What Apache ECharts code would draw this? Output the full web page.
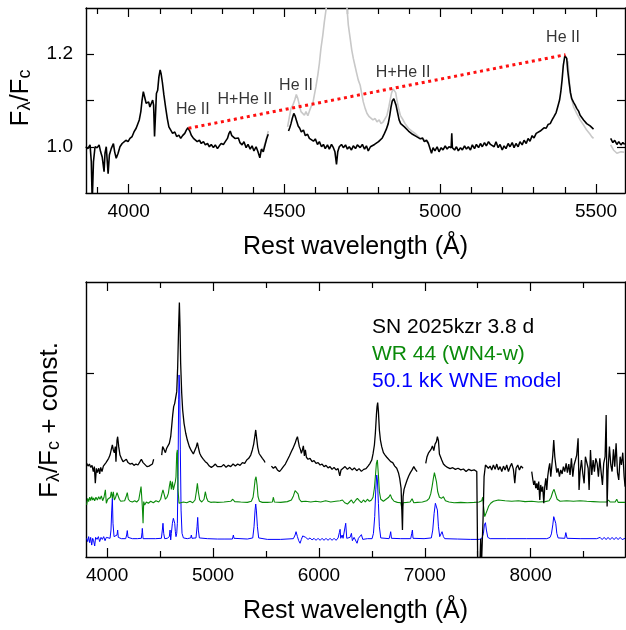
<!DOCTYPE html>
<html>
<head>
<meta charset="utf-8">
<script src="https://cdn.jsdelivr.net/npm/echarts@6/dist/echarts.min.js"></script>
<style>
  html, body { margin: 0; padding: 0; background: #fff; }
  #chart { width: 626px; height: 630px; }
</style>
</head>
<body>
<div id="chart"></div>
<script>
// ---------- Upper panel: normalised spectrum around the He II lines ----------
// [rest wavelength (Å), F_lambda / F_c]; null marks a gap in the spectrum
const snZoomFlux = [
  [3862,1.000],[3869,0.996],[3876,1.004],[3880,0.968],[3883,0.880],[3887,0.968],[3892,1.000],
  [3899,0.998],[3905,1.004],[3910,0.989],[3915,0.978],[3921,0.946],[3924,0.986],[3928,1.000],
  [3934,0.942],[3938,0.982],[3944,0.996],[3951,1.007],[3955,0.989],[3960,0.975],[3966,0.986],
  [3972,1.000],[3979,1.007],[3985,1.004],[3991,1.014],[3998,1.011],[4004,1.018],[4011,1.022],
  [4017,1.032],[4024,1.040],[4030,1.043],[4034,1.058],[4039,1.076],[4043,1.101],[4047,1.119],
  [4051,1.108],[4056,1.094],[4060,1.090],[4064,1.097],[4068,1.086],[4073,1.090],[4077,1.101],
  [4080,1.090],[4083,1.022],[4086,1.068],[4089,1.115],[4093,1.122],[4097,1.151],[4101,1.166],
  [4104,1.158],[4108,1.140],[4113,1.112],[4119,1.083],[4124,1.061],[4129,1.043],[4135,1.036],
  [4141,1.029],[4148,1.032],[4154,1.022],[4161,1.025],[4167,1.018],[4173,1.024],[4180,1.029],
  [4185,1.036],[4190,1.041],[4196,1.034],[4201,1.025],[4208,1.018],[4214,1.022],[4220,1.011],
  [4227,1.014],[4233,1.007],[4240,1.011],[4246,1.004],[4253,1.007],[4259,1.000],[4265,1.005],
  [4272,0.998],[4278,1.004],[4285,0.996],[4291,1.002],[4297,1.007],[4304,1.005],[4310,1.011],
  [4317,1.018],[4322,1.029],[4326,1.034],[4331,1.024],[4336,1.027],[4341,1.018],[4347,1.014],
  [4352,1.019],[4357,1.009],[4364,1.004],[4370,1.011],[4377,0.998],[4383,1.005],[4390,0.995],
  [4396,1.002],[4402,0.991],[4409,1.000],[4415,0.989],[4421,0.976],[4426,0.995],[4432,0.989],
  [4438,1.005],[4443,1.018],[4448,1.027],[4480,null],
  [4513,1.034],[4517,1.041],[4521,1.050],[4525,1.061],[4530,1.072],[4534,1.067],[4538,1.058],
  [4544,1.045],[4549,1.040],[4554,1.032],[4561,1.036],[4567,1.024],[4574,1.027],[4580,1.018],
  [4586,1.022],[4593,1.012],[4599,1.017],[4606,1.005],[4612,1.011],[4619,1.000],[4625,1.005],
  [4631,0.996],[4638,1.004],[4644,0.995],[4651,1.005],[4657,0.998],[4662,0.989],[4667,0.962],
  [4671,0.989],[4676,1.000],[4683,1.005],[4689,0.998],[4696,1.004],[4702,0.995],[4708,1.000],
  [4715,0.993],[4721,1.002],[4728,0.996],[4734,1.004],[4743,0.998],[4750,1.005],[4757,0.995],
  [4763,1.002],[4769,0.991],[4776,1.000],[4782,0.996],[4789,1.005],[4795,1.002],[4802,1.011],
  [4808,1.009],[4814,1.019],[4821,1.029],[4827,1.038],[4833,1.050],[4838,1.068],[4842,1.086],
  [4846,1.099],[4851,1.104],[4854,1.101],[4858,1.090],[4863,1.074],[4868,1.058],[4873,1.050],
  [4879,1.054],[4885,1.043],[4891,1.045],[4898,1.034],[4904,1.038],[4911,1.027],[4917,1.031],
  [4924,1.022],[4930,1.025],[4936,1.017],[4943,1.019],[4949,1.011],[4956,1.014],[4962,1.007],
  [4967,1.009],[4972,0.986],[4977,0.998],[4983,0.991],[4990,1.000],[4996,0.989],[5003,0.998],
  [5009,0.993],[5016,1.002],[5022,0.995],[5028,1.000],[5035,0.998],[5037,1.029],[5039,0.998],
  [5046,0.993],[5052,1.000],[5058,0.991],[5065,0.998],[5071,0.993],[5078,1.002],[5084,0.995],
  [5090,1.000],[5097,0.993],[5103,1.004],[5110,0.996],[5116,1.005],[5123,0.998],[5129,1.007],
  [5135,1.000],[5142,1.009],[5148,1.002],[5155,1.011],[5161,1.005],[5173,1.000],[5179,1.011],
  [5186,0.998],[5192,1.005],[5199,0.993],[5205,1.002],[5211,0.996],[5218,1.007],[5224,1.000],
  [5231,1.009],[5237,0.998],[5243,1.007],[5250,1.000],[5256,1.011],[5263,1.004],[5269,1.014],
  [5276,1.007],[5282,1.018],[5288,1.012],[5295,1.024],[5301,1.019],[5308,1.029],[5314,1.025],
  [5321,1.034],[5327,1.032],[5333,1.041],[5340,1.040],[5346,1.048],[5353,1.050],[5359,1.058],
  [5365,1.065],[5372,1.074],[5377,1.086],[5383,1.101],[5387,1.119],[5391,1.144],[5395,1.176],
  [5400,1.197],[5403,1.198],[5406,1.191],[5409,1.166],[5414,1.137],[5418,1.117],[5422,1.104],
  [5428,1.096],[5433,1.090],[5438,1.083],[5444,1.077],[5449,1.068],[5454,1.072],[5460,1.058],
  [5465,1.061],[5470,1.050],[5476,1.054],[5481,1.045],[5486,1.048],[5492,1.038],[5520,null],
  [5547,1.018],[5554,1.009],[5560,1.014],[5567,1.005],[5573,1.011],[5580,1.004],[5586,1.009],
  [5592,1.005]
];

// Comparison spectrum drawn in grey behind the main one
const snZoomCompare = [
  [4422,0.989],[4432,0.996],[4441,1.014],[4448,1.034],[4480,null],
  [4510,1.043],[4516,1.065],[4521,1.083],[4527,1.090],[4533,1.101],[4538,1.113],[4543,1.104],
  [4548,1.090],[4553,1.076],[4559,1.079],[4564,1.068],[4569,1.076],[4575,1.067],[4580,1.077],
  [4585,1.086],[4591,1.094],[4596,1.112],[4601,1.130],[4607,1.155],[4612,1.180],[4617,1.212],
  [4623,1.241],[4628,1.270],[4634,1.299],[4650,1.45],[4686,1.70],[4700,1.306],[4705,1.263],
  [4711,1.234],[4716,1.209],[4721,1.191],[4727,1.173],[4732,1.158],[4737,1.144],[4743,1.133],
  [4748,1.115],[4753,1.097],[4759,1.083],[4765,1.072],[4772,1.065],[4778,1.068],[4784,1.058],
  [4791,1.061],[4797,1.054],[4804,1.058],[4810,1.050],[4817,1.054],[4823,1.058],[4829,1.068],
  [4835,1.086],[4840,1.104],[4844,1.117],[4849,1.125],[4853,1.127],[4857,1.117],[4861,1.101],
  [4867,1.081],[4872,1.068],[4879,1.060],[4887,1.050],[4898,1.040],[4909,1.034],[4919,1.029],
  [4935,1.019],[4951,1.014],[4964,1.009],[5000,null],
  [5410,1.185],[5417,1.117],[5428,1.086],[5438,1.072],[5449,1.058],[5460,1.047],[5470,1.036],
  [5481,1.027],[5486,1.022],[5492,1.018],[5520,null],
  [5547,1.004],[5556,0.993],[5567,0.986],[5580,0.989],[5592,0.988]
];

// Straight guide joining the He II 4200 and He II 5411 peaks
const heIIGuide = [[4192,1.040],[5402,1.199]];

// Line identifications: [label, wavelength, flux level of the text]
const lineIds = [
  ['He II', 4206, 1.081],
  ['H+He II', 4373, 1.103],
  ['He II', 4537, 1.133],
  ['H+He II', 4881, 1.161],
  ['He II', 5394, 1.235]
];

// ---------- Lower panel: full optical spectra with vertical offsets ----------
const snFull = [
  [3806,0.511],[3819,0.496],[3832,0.507],[3844,0.489],[3857,0.500],[3869,0.466],[3879,0.493],
  [3888,0.402],[3898,0.484],[3907,0.460],[3920,0.484],[3929,0.453],[3939,0.489],[3951,0.466],
  [3964,0.496],[3976,0.489],[3989,0.515],[4002,0.520],[4014,0.538],[4027,0.556],[4039,0.587],
  [4049,0.611],[4058,0.584],[4068,0.569],[4077,0.602],[4083,0.520],[4093,0.638],[4099,0.656],
  [4109,0.602],[4121,0.556],[4134,0.538],[4150,0.520],[4165,0.526],[4181,0.533],[4197,0.515],
  [4216,0.507],[4235,0.511],[4253,0.500],[4272,0.507],[4291,0.502],[4310,0.520],[4323,0.533],
  [4339,0.515],[4357,0.507],[4376,0.493],[4395,0.496],[4411,0.489],[4427,0.507],[4439,0.533],
  [4475,null],
  [4515,0.556],[4524,0.602],[4537,0.587],[4550,0.569],[4562,0.593],[4575,0.602],[4587,0.620],
  [4600,0.656],[4609,0.711],[4619,0.775],[4628,0.820],[4638,0.838],[4647,0.847],[4657,0.902],
  [4666,1.038],[4675,1.257],[4682,1.388],[4688,1.257],[4694,1.057],[4704,0.893],[4713,0.802],
  [4726,0.729],[4742,0.675],[4757,0.638],[4776,0.602],[4795,0.580],[4814,0.562],[4830,0.569],
  [4842,0.602],[4852,0.624],[4861,0.598],[4874,0.566],[4890,0.547],[4909,0.533],[4927,0.520],
  [4946,0.511],[4965,0.496],[4984,0.489],[5003,0.496],[5022,0.507],[5041,0.493],[5057,0.502],
  [5079,0.493],[5101,0.504],[5123,0.489],[5145,0.500],[5167,0.493],[5189,0.507],[5211,0.496],
  [5233,0.507],[5255,0.500],[5277,0.515],[5299,0.511],[5318,0.529],[5337,0.538],[5356,0.556],
  [5371,0.584],[5384,0.616],[5394,0.656],[5403,0.693],[5412,0.647],[5422,0.598],[5434,0.566],
  [5450,0.551],[5466,0.538],[5482,0.526],[5491,0.515],[5520,null],
  [5551,0.496],[5570,0.484],[5589,0.493],[5608,0.475],[5627,0.466],[5645,0.478],[5664,0.493],
  [5683,0.507],[5702,0.529],[5721,0.551],[5740,0.575],[5759,0.598],[5775,0.620],[5787,0.642],
  [5797,0.656],[5806,0.629],[5815,0.602],[5825,0.587],[5834,0.566],[5844,0.584],[5853,0.606],
  [5863,0.551],[5872,0.584],[5882,0.544],[5897,0.533],[5916,0.538],[5935,0.520],[5954,0.526],
  [5973,0.511],[5992,0.515],[6011,0.502],[6030,0.507],[6048,0.493],[6067,0.500],[6086,0.486],
  [6105,0.493],[6124,0.478],[6143,0.489],[6162,0.475],[6181,0.482],[6197,0.442],[6209,0.475],
  [6228,0.484],[6247,0.493],[6269,0.478],[6291,0.489],[6313,0.475],[6335,0.486],[6357,0.471],
  [6379,0.482],[6401,0.467],[6423,0.478],[6445,0.482],[6464,0.496],[6483,0.511],[6499,0.529],
  [6511,0.562],[6524,0.611],[6533,0.675],[6543,0.775],[6549,0.820],[6555,0.842],[6562,0.793],
  [6571,0.693],[6581,0.638],[6593,0.602],[6609,0.569],[6625,0.556],[6641,0.544],[6659,0.538],
  [6678,0.520],[6697,0.515],[6716,0.496],[6735,0.484],[6751,0.460],[6763,0.429],[6776,0.375],
  [6782,0.275],[6789,0.147],[6795,0.329],[6804,0.369],[6817,0.393],[6833,0.420],[6848,0.442],
  [6864,0.460],[6880,0.475],[6896,0.493],[6911,0.478],[6927,0.466],[6970,null],
  [7009,0.511],[7021,0.547],[7034,0.566],[7047,0.556],[7059,0.587],[7072,0.606],[7085,0.580],
  [7097,0.616],[7110,0.629],[7119,0.656],[7129,0.634],[7138,0.562],[7148,0.566],[7160,0.529],
  [7176,0.507],[7195,0.496],[7214,0.489],[7239,0.482],[7264,0.487],[7289,0.478],[7314,0.484],
  [7340,0.475],[7365,0.480],[7390,0.466],[7415,0.478],[7440,0.471],[7466,0.475],[7491,0.466],
  [7500,-0.05],[7520,-0.05],[7528,0.10],[7535,-0.05],[7545,-0.05],[7550,0.20],[7560,0.438],
  [7573,0.502],[7585,0.511],[7601,0.484],[7617,0.496],[7632,0.475],[7648,0.502],[7664,0.478],
  [7680,0.507],[7695,0.475],[7711,0.493],[7727,0.466],[7743,0.496],[7758,0.475],[7774,0.502],
  [7790,0.466],[7806,0.493],[7821,0.511],[7837,0.478],[7850,0.402],[7862,0.484],[7878,0.502],
  [7894,0.475],[7910,0.496],[7928,0.484],[7970,null],
  [8010,0.466],[8020,0.424],[8029,0.393],[8039,0.416],[8048,0.375],[8058,0.402],[8067,0.366],
  [8076,0.411],[8086,0.311],[8095,0.393],[8105,0.356],[8114,0.384],[8124,0.293],[8133,0.384],
  [8143,0.429],[8152,0.366],[8161,0.438],[8171,0.484],[8180,0.511],[8190,0.438],[8199,0.493],
  [8209,0.556],[8218,0.638],[8228,0.547],[8237,0.502],[8247,0.460],[8259,0.484],[8272,0.438],
  [8284,0.475],[8297,0.453],[8309,0.493],[8322,0.466],[8335,0.511],[8347,0.460],[8360,0.507],
  [8372,0.447],[8385,0.538],[8398,0.438],[8410,0.502],[8423,0.529],[8435,0.556],[8448,0.647],
  [8457,0.366],[8467,0.466],[8480,0.529],[8492,0.457],[8505,0.402],[8517,0.547],[8530,0.556],
  [8543,0.484],[8552,0.366],[8565,0.584],[8577,0.447],[8590,0.529],[8602,0.466],[8615,0.538],
  [8628,0.511],[8640,0.438],[8653,0.538],[8665,0.466],[8678,0.393],[8690,0.511],[8703,0.547],
  [8713,0.775],[8722,0.275],[8731,0.475],[8744,0.602],[8757,0.502],[8769,0.466],[8782,0.587],
  [8794,0.493],[8807,0.620],[8820,0.460],[8832,0.420],[8845,0.547],[8857,0.502],[8870,0.569],
  [8883,0.438],[8892,0.384]
];

const wr44Flux = [
  [3806,0.284],[3816,0.320],[3825,0.302],[3835,0.326],[3844,0.307],[3854,0.329],[3863,0.311],
  [3872,0.322],[3882,0.307],[3894,0.326],[3907,0.311],[3920,0.329],[3932,0.315],[3945,0.333],
  [3957,0.307],[3970,0.326],[3983,0.366],[3992,0.293],[4005,0.315],[4017,0.307],[4030,0.326],
  [4039,0.356],[4049,0.320],[4058,0.356],[4068,0.311],[4080,0.326],[4093,0.351],[4102,0.356],
  [4115,0.315],[4128,0.304],[4146,0.300],[4165,0.307],[4181,0.333],[4190,0.351],[4200,0.315],
  [4216,0.304],[4238,0.300],[4260,0.307],[4279,0.300],[4298,0.311],[4310,0.320],[4320,0.384],
  [4326,0.393],[4332,0.275],[4339,0.184],[4345,0.302],[4354,0.284],[4370,0.300],[4389,0.293],
  [4411,0.304],[4436,0.296],[4461,0.307],[4487,0.300],[4505,0.315],[4518,0.347],[4527,0.366],
  [4537,0.344],[4550,0.315],[4565,0.326],[4578,0.347],[4587,0.384],[4597,0.416],[4606,0.369],
  [4616,0.411],[4625,0.366],[4635,0.369],[4644,0.411],[4650,0.438],[4657,0.566],[4663,0.584],
  [4669,0.366],[4679,0.293],[4694,0.296],[4720,0.300],[4751,0.296],[4783,0.304],[4808,0.296],
  [4830,0.311],[4842,0.356],[4852,0.402],[4861,0.356],[4874,0.311],[4893,0.300],[4915,0.315],
  [4927,0.356],[4940,0.320],[4953,0.304],[4978,0.298],[5009,0.300],[5041,0.298],[5104,0.300],
  [5167,0.304],[5186,0.315],[5205,0.302],[5261,0.300],[5324,0.298],[5362,0.304],[5378,0.326],
  [5387,0.366],[5397,0.420],[5406,0.438],[5416,0.393],[5425,0.329],[5438,0.304],[5466,0.298],
  [5513,0.298],[5560,0.300],[5570,0.326],[5579,0.300],[5639,0.298],[5702,0.302],[5740,0.311],
  [5759,0.333],[5775,0.362],[5790,0.366],[5803,0.344],[5815,0.315],[5834,0.302],[5875,0.304],
  [5923,0.300],[5970,0.304],[6017,0.300],[6064,0.307],[6112,0.300],[6159,0.304],[6200,0.307],
  [6222,0.311],[6244,0.296],[6269,0.289],[6288,0.300],[6307,0.311],[6326,0.293],[6344,0.307],
  [6363,0.320],[6382,0.307],[6401,0.296],[6420,0.311],[6439,0.300],[6458,0.315],[6477,0.304],
  [6496,0.311],[6511,0.326],[6524,0.375],[6533,0.438],[6543,0.511],[6552,0.529],[6562,0.447],
  [6571,0.356],[6584,0.315],[6609,0.304],[6634,0.315],[6659,0.326],[6675,0.340],[6688,0.320],
  [6710,0.304],[6741,0.298],[6773,0.296],[6785,0.260],[6795,0.296],[6829,0.298],[6861,0.300],
  [6880,0.318],[6896,0.296],[6930,0.298],[6977,0.300],[7018,0.307],[7040,0.318],[7056,0.344],
  [7069,0.384],[7081,0.429],[7091,0.460],[7100,0.453],[7110,0.411],[7122,0.356],[7138,0.326],
  [7157,0.320],[7176,0.329],[7195,0.307],[7229,0.300],[7277,0.296],[7340,0.298],[7403,0.296],
  [7466,0.298],[7513,0.300],[7538,0.307],[7547,0.326],[7557,0.266],[7566,0.220],[7576,0.235],
  [7588,0.253],[7604,0.278],[7623,0.293],[7648,0.304],[7695,0.311],[7758,0.307],[7821,0.304],
  [7884,0.307],[7947,0.302],[8010,0.304],[8073,0.300],[8136,0.302],[8174,0.307],[8193,0.326],
  [8209,0.356],[8221,0.369],[8234,0.344],[8250,0.315],[8278,0.304],[8341,0.307],[8404,0.304],
  [8467,0.307],[8530,0.304],[8593,0.302],[8656,0.300],[8719,0.300],[8735,0.311],[8750,0.300],
  [8798,0.300],[8813,0.315],[8826,0.298],[8892,0.298]
];

const wneModel = [
  [3806,0.102],[3816,0.084],[3825,0.111],[3835,0.078],[3844,0.107],[3854,0.065],[3863,0.102],
  [3872,0.089],[3882,0.060],[3891,0.107],[3904,0.096],[3917,0.111],[3929,0.084],[3942,0.107],
  [3954,0.096],[3967,0.111],[3980,0.089],[3992,0.107],[4008,0.100],[4027,0.102],[4036,0.147],
  [4043,0.256],[4049,0.320],[4055,0.184],[4065,0.111],[4083,0.102],[4093,0.120],[4099,0.147],
  [4105,0.107],[4134,0.100],[4175,0.100],[4184,0.120],[4190,0.144],[4197,0.107],[4238,0.100],
  [4285,0.100],[4323,0.102],[4329,0.133],[4332,0.156],[4339,0.100],[4395,0.100],[4458,0.100],
  [4512,0.102],[4521,0.147],[4527,0.184],[4534,0.129],[4543,0.100],[4568,0.102],[4587,0.111],
  [4594,0.147],[4600,0.093],[4606,0.129],[4616,0.184],[4625,0.211],[4631,0.220],[4638,0.184],
  [4644,0.138],[4650,0.111],[4657,0.129],[4663,0.184],[4669,0.438],[4675,0.857],[4679,0.993],
  [4685,0.911],[4691,0.584],[4698,0.256],[4707,0.129],[4720,0.104],[4757,0.100],[4789,0.104],
  [4795,0.120],[4801,0.102],[4839,0.104],[4849,0.165],[4855,0.216],[4861,0.147],[4871,0.104],
  [4946,0.100],[5041,0.098],[5104,0.098],[5183,0.098],[5192,0.120],[5198,0.102],[5324,0.098],
  [5375,0.104],[5387,0.165],[5397,0.256],[5403,0.289],[5409,0.256],[5419,0.165],[5431,0.104],
  [5513,0.096],[5639,0.096],[5759,0.100],[5775,0.120],[5784,0.138],[5797,0.111],[5809,0.089],
  [5822,0.075],[5834,0.096],[5847,0.115],[5860,0.118],[5875,0.107],[5897,0.096],[5916,0.104],
  [5935,0.093],[5954,0.102],[5973,0.091],[5992,0.102],[6011,0.091],[6030,0.102],[6048,0.091],
  [6067,0.102],[6086,0.091],[6105,0.102],[6124,0.091],[6143,0.102],[6162,0.091],[6181,0.104],
  [6193,0.133],[6200,0.151],[6206,0.102],[6219,0.120],[6228,0.102],[6244,0.111],[6253,0.184],
  [6263,0.102],[6275,0.102],[6294,0.107],[6307,0.129],[6316,0.089],[6332,0.107],[6348,0.115],
  [6360,0.075],[6373,0.102],[6389,0.111],[6401,0.122],[6414,0.096],[6458,0.100],[6502,0.100],
  [6515,0.129],[6527,0.220],[6537,0.366],[6546,0.447],[6552,0.420],[6562,0.293],[6571,0.165],
  [6584,0.104],[6663,0.100],[6672,0.120],[6678,0.138],[6685,0.102],[6773,0.100],[6867,0.100],
  [6877,0.129],[6883,0.147],[6889,0.102],[6993,0.100],[7062,0.104],[7075,0.147],[7088,0.238],
  [7100,0.293],[7110,0.300],[7119,0.256],[7129,0.165],[7141,0.111],[7154,0.104],[7163,0.138],
  [7170,0.147],[7176,0.111],[7188,0.100],[7308,0.098],[7434,0.096],[7513,0.096],[7538,0.100],
  [7554,0.129],[7563,0.175],[7573,0.187],[7582,0.147],[7595,0.107],[7617,0.100],[7774,0.100],
  [7963,0.100],[8152,0.100],[8183,0.107],[8196,0.126],[8209,0.175],[8218,0.220],[8228,0.229],
  [8237,0.184],[8247,0.129],[8259,0.104],[8322,0.102],[8332,0.133],[8338,0.138],[8344,0.102],
  [8467,0.100],[8624,0.100],[8656,0.107],[8675,0.095],[8694,0.107],[8713,0.095],[8731,0.107],
  [8750,0.095],[8769,0.107],[8788,0.095],[8807,0.107],[8826,0.095],[8845,0.107],[8864,0.095],
  [8892,0.102]
];

// Legend entries of the lower panel
const legendNames = ['SN 2025kzr 3.8 d', 'WR 44 (WN4-w)', '50.1 kK WNE model'];

// Axis tick labels
const upperXLabels = [4000, 4500, 5000, 5500];
const upperYLabels = [1.0, 1.2];
const upperYTicks = [1.0, 1.1, 1.2];
const lowerXLabels = [4000, 5000, 6000, 7000, 8000];
const lowerYTicks = [1.0];

// ---------- styling ----------
const FONT = '"Liberation Sans", Arial, Helvetica, sans-serif';
const colSN = '#000000';
const colWR = '#0a8a0a';
const colModel = '#0000ff';
const colCompare = '#c8c8c8';

function steps(from, to, step) {
  const out = [];
  for (let v = from; v <= to + 1e-9; v += step) out.push(v);
  return out;
}
const upperXMinor = steps(3900, 5500, 100).filter(v => upperXLabels.indexOf(v) < 0);
const lowerXMinor = steps(4500, 8500, 1000);

const LW = 1.4;
function xAx(grid, min, max, pos, ticks, labels, len, extra) {
  return Object.assign({
    type: 'value', gridIndex: grid, min: min, max: max, position: pos,
    splitLine: { show: false },
    axisLine: { show: !!labels, onZero: false, lineStyle: { color: '#000', width: LW } },
    axisTick: { show: true, inside: true, length: len, customValues: ticks,
                lineStyle: { color: '#000', width: 1.2 } },
    axisLabel: labels && pos === 'bottom'
      ? { show: true, customValues: labels, fontSize: 19, fontFamily: FONT, color: '#000', margin: 9,
          formatter: v => String(v) }
      : { show: false }
  }, extra || {});
}
function yAx(grid, min, max, pos, ticks, labels, extra) {
  return Object.assign({
    type: 'value', gridIndex: grid, min: min, max: max, position: pos,
    splitLine: { show: false },
    axisLine: { show: true, onZero: false, lineStyle: { color: '#000', width: LW } },
    axisTick: { show: true, inside: true, length: 8, customValues: ticks,
                lineStyle: { color: '#000', width: 1.2 } },
    axisLabel: labels
      ? { show: true, customValues: labels, fontSize: 19, fontFamily: FONT, color: '#000', margin: 13,
          formatter: v => v.toFixed(1) }
      : { show: false }
  }, extra || {});
}

const axisTitle = {
  name: 'Rest wavelength (Å)', nameLocation: 'middle', nameGap: 42,
  nameTextStyle: { fontSize: 25, fontFamily: FONT, color: '#000' }
};

const U = [3863, 5593], L = [3800, 8891];

const option = {
  animation: false,
  backgroundColor: '#fff',
  grid: [
    { left: 86, top: 8, width: 539, height: 185 },
    { left: 86, top: 282, width: 539, height: 275 }
  ],
  xAxis: [
    xAx(0, U[0], U[1], 'bottom', upperXLabels, upperXLabels, 9, axisTitle),
    xAx(0, U[0], U[1], 'bottom', upperXMinor, null, 6),
    xAx(0, U[0], U[1], 'top', upperXLabels, upperXLabels, 9),
    xAx(0, U[0], U[1], 'top', upperXMinor, null, 6),
    xAx(1, L[0], L[1], 'bottom', lowerXLabels, lowerXLabels, 9, axisTitle),
    xAx(1, L[0], L[1], 'bottom', lowerXMinor, null, 6),
    xAx(1, L[0], L[1], 'top', lowerXLabels, lowerXLabels, 9),
    xAx(1, L[0], L[1], 'top', lowerXMinor, null, 6)
  ],
  yAxis: [
    yAx(0, 0.9, 1.3, 'left', upperYTicks, upperYLabels),
    yAx(0, 0.9, 1.3, 'right', upperYTicks, null),
    yAx(1, 0, 1.5, 'left', lowerYTicks, null),
    yAx(1, 0, 1.5, 'right', lowerYTicks, null)
  ],
  series: [
    { type: 'line', xAxisIndex: 0, yAxisIndex: 0, data: snZoomCompare, showSymbol: false,
      connectNulls: false, lineStyle: { color: colCompare, width: 1.6 }, z: 1 },
    { type: 'line', xAxisIndex: 0, yAxisIndex: 0, data: snZoomFlux, showSymbol: false,
      connectNulls: false, lineStyle: { color: colSN, width: 1.6 }, z: 2 },
    { type: 'line', xAxisIndex: 0, yAxisIndex: 0, data: heIIGuide, showSymbol: false,
      lineStyle: { color: '#ff1010', width: 3, type: [3, 3.6] }, z: 3 },
    { type: 'scatter', xAxisIndex: 0, yAxisIndex: 0, symbolSize: 0, z: 4,
      data: lineIds.map(d => ({ value: [d[1], d[2]], name: d[0] })),
      label: { show: true, position: 'inside', formatter: p => p.name,
               fontSize: 16, fontFamily: FONT, color: '#000', textBorderWidth: 0 } },
    { type: 'line', xAxisIndex: 4, yAxisIndex: 2, data: wneModel, showSymbol: false,
      lineStyle: { color: colModel, width: 1 }, z: 2 },
    { type: 'line', xAxisIndex: 4, yAxisIndex: 2, data: wr44Flux, showSymbol: false,
      lineStyle: { color: colWR, width: 1.1 }, z: 3 },
    { type: 'line', xAxisIndex: 4, yAxisIndex: 2, data: snFull, showSymbol: false,
      connectNulls: false, lineStyle: { color: colSN, width: 1.3 }, z: 4 }
  ],
  graphic: [
    { type: 'text', x: 21, y: 98, rotation: Math.PI / 2,
      style: { text: '{m|F}{s|λ}{m|/F}{s|c}', align: 'center', verticalAlign: 'middle',
        rich: {
          m: { fontSize: 26, fontFamily: FONT, fill: '#000', verticalAlign: 'top', lineHeight: 26 },
          s: { fontSize: 18, fontFamily: FONT, fill: '#000', verticalAlign: 'bottom', lineHeight: 18, padding: [15, 0, 0, 0] }
        } } },
    { type: 'text', x: 50, y: 420, rotation: Math.PI / 2,
      style: { text: '{m|F}{s|λ}{m|/F}{s|c}{m| + const.}', align: 'center', verticalAlign: 'middle',
        rich: {
          m: { fontSize: 26, fontFamily: FONT, fill: '#000', verticalAlign: 'top', lineHeight: 26 },
          s: { fontSize: 18, fontFamily: FONT, fill: '#000', verticalAlign: 'bottom', lineHeight: 18, padding: [15, 0, 0, 0] }
        } } },
    { type: 'text', x: 372, y: 327, style: { text: legendNames[0], fill: colSN, fontSize: 21, fontFamily: FONT, verticalAlign: 'middle' } },
    { type: 'text', x: 372, y: 354, style: { text: legendNames[1], fill: colWR, fontSize: 21, fontFamily: FONT, verticalAlign: 'middle' } },
    { type: 'text', x: 372, y: 381, style: { text: legendNames[2], fill: colModel, fontSize: 21, fontFamily: FONT, verticalAlign: 'middle' } }
  ]
};

const chart = echarts.init(document.getElementById('chart'), null, { renderer: 'canvas' });
chart.setOption(option);
</script>
</body>
</html>
